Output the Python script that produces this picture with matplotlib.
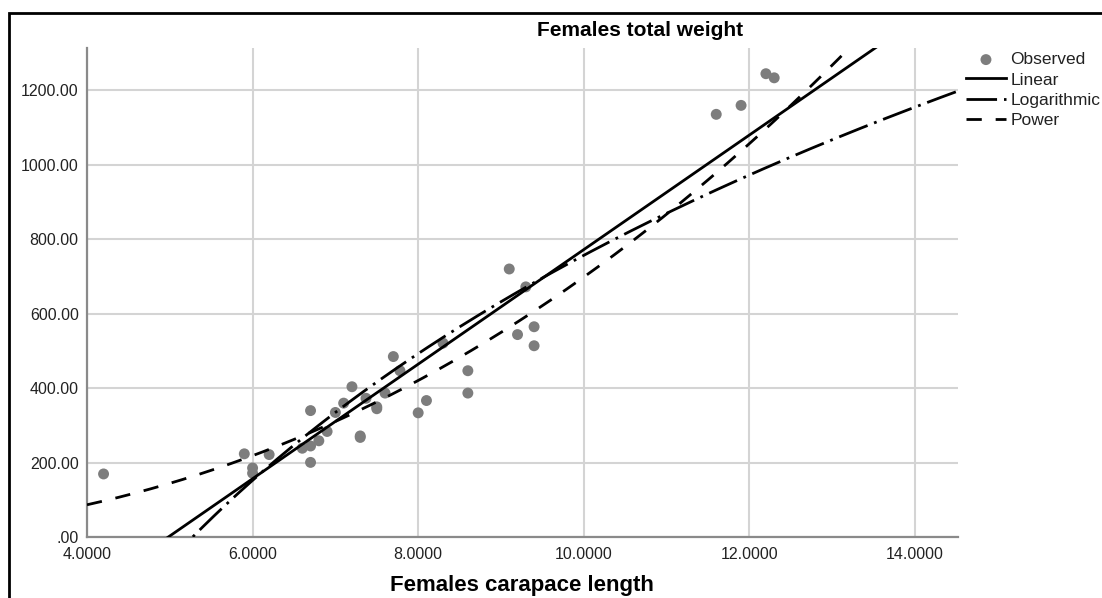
import numpy as np
import matplotlib
matplotlib.use("Agg")
import matplotlib.pyplot as plt
from matplotlib.patches import Rectangle

plt.rcParams['font.family'] = ['Liberation Sans', 'DejaVu Sans']
plt.rcParams['lines.scale_dashes'] = False

# Observed data (carapace length, total weight)
length = [4.2, 5.9, 6.0, 6.0, 6.2, 6.6, 6.7, 6.7, 6.7, 6.8, 6.9, 7.0, 7.1, 7.2,
          7.3, 7.3, 7.37, 7.5, 7.5, 7.6, 7.7, 7.78, 8.0, 8.1, 8.3, 8.6, 8.6,
          9.1, 9.2, 9.3, 9.4, 9.4, 11.6, 11.9, 12.2, 12.3]
weight = [170, 224, 186, 172, 222, 239, 340, 245, 201, 259, 284, 335, 360, 404,
          272, 268, 373, 350, 345, 387, 485, 447, 334, 367, 521, 447, 387,
          720, 544, 672, 565, 514, 1135, 1159, 1244, 1233]

# Fitted model coefficients
linear_b0, linear_b1 = -765.0, 153.7          # y = b0 + b1*x
log_b0, log_b1 = -1965.0, 1182.0              # y = b0 + b1*ln(x)
power_b0, power_b1 = 3.75, 2.270              # y = b0 * x**b1

x_ticks = [4, 6, 8, 10, 12, 14]
x_ticklabels = ["4.0000", "6.0000", "8.0000", "10.0000", "12.0000", "14.0000"]
y_ticks = [0, 200, 400, 600, 800, 1000, 1200]
y_ticklabels = [".00", "200.00", "400.00", "600.00", "800.00", "1000.00", "1200.00"]
legend_labels = ["Observed", "Linear", "Logarithmic", "Power"]

W, H = 1102, 598
fig = plt.figure(figsize=(W / 100, H / 100), dpi=100)
ax = fig.add_axes([87 / W, 1 - 537.3 / H, (958 - 87) / W, (537.3 - 48) / H])

xmin, xmax = 4.0, 14.52
ymin, ymax = 0.0, 1313.0
ax.set_xlim(xmin, xmax)
ax.set_ylim(ymin, ymax)

xs = np.linspace(xmin, xmax, 600)
sc = ax.scatter(length, weight, s=62, color='#7d7d7d', edgecolors='none', zorder=3,
                label=legend_labels[0])
l1, = ax.plot(xs, linear_b0 + linear_b1 * xs, color='black', lw=2.0, zorder=4,
              label=legend_labels[1])
l2, = ax.plot(xs, log_b0 + log_b1 * np.log(xs), color='black', lw=2.0, zorder=4,
              linestyle=(0, (22, 5, 2, 5)), label=legend_labels[2])
l3, = ax.plot(xs, power_b0 * xs ** power_b1, color='black', lw=2.0, zorder=4,
              linestyle=(0, (11, 10)), label=legend_labels[3])

ax.set_xticks(x_ticks)
ax.set_xticklabels(x_ticklabels)
ax.set_yticks(y_ticks)
ax.set_yticklabels(y_ticklabels)
ax.tick_params(axis='both', length=0, labelsize=11.5, colors='#222222')
ax.tick_params(axis='x', pad=7)
ax.tick_params(axis='y', pad=6)

ax.grid(True, color='#d4d4d4', lw=1.5)
ax.set_axisbelow(True)
for s in ['top', 'right']:
    ax.spines[s].set_visible(False)
for s in ['left', 'bottom']:
    ax.spines[s].set_color('#8a8a8a')
    ax.spines[s].set_linewidth(1.6)

fig.text(640 / W, 1 - 31 / H, "Females total weight", ha='center', va='center',
         fontsize=15, fontweight='bold')
fig.text(522 / W, 1 - 586 / H, "Females carapace length", ha='center', va='center',
         fontsize=16, fontweight='bold')

leg = ax.legend(handles=[sc, l1, l2, l3], loc='upper left',
                bbox_to_anchor=(966 / W, 1 - 52 / H), bbox_transform=fig.transFigure,
                frameon=False, fontsize=12.5, handlelength=2.3, handletextpad=0.25,
                labelspacing=0.3, borderpad=0, borderaxespad=0)
for t in leg.get_texts():
    t.set_color('#222222')

fig.patches.append(Rectangle((9 / W, -0.05), 1.2, 1 - 13 / H + 0.05,
                             transform=fig.transFigure, fill=False,
                             edgecolor='black', lw=2, clip_on=False))

fig.savefig("out.png", dpi=100)
